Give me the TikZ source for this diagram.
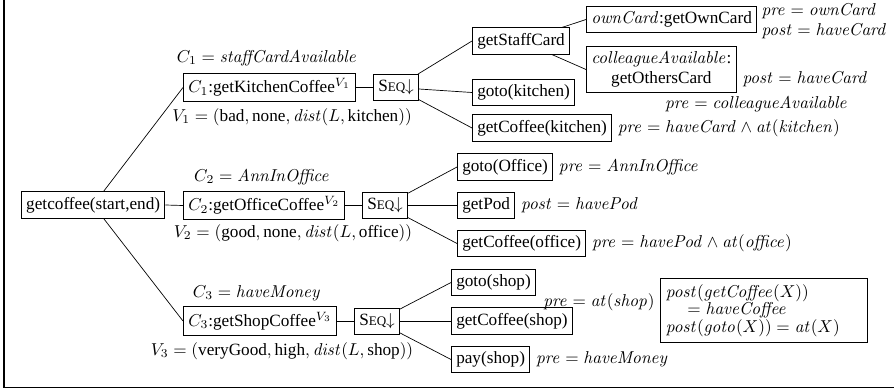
\documentclass[tikz,border=0pt]{standalone}
\usepackage[no-math]{fontspec}
\setmainfont{Liberation Serif}
\newcommand{\seqtxt}{S{\fontsize{7.6}{9}\selectfont EQ}$\downarrow$}
\newcommand{\mi}[1]{\mathit{#1}}
\begin{document}
\begin{tikzpicture}[x=0.5814pt,y=-0.5814pt,
  box/.style={draw, line width=0.5pt, inner xsep=2.8pt, inner ysep=3.1pt},
  wbox/.style={box, anchor=west},
  lbl/.style={inner sep=0pt},
  wlbl/.style={inner sep=0pt, anchor=west, xshift=3.2pt},
  conn/.style={line width=0.4pt}]
\useasboundingbox (0,0) rectangle (894,389);
\draw[line width=1.1pt] (4,0) -- (4,387.5) -- (894,387.5);

% root
\node[wbox] (root) at (21,205) {getcoffee(start,end)};

% level 1
\node[wbox] (c1) at (183,87.5) {$C_1$:getKitchenCoffee$^{V_1}$};
\node[wbox] (c2) at (183,205.5) {$C_2$:getOfficeCoffee$^{V_2}$};
\node[wbox] (c3) at (183,321) {$C_3$:getShopCoffee$^{V_3}$};
\node[lbl] (c1l) at (267,58) {$C_1 = \mi{staffCardAvailable}$};
\node[lbl] (c2l) at (262,177) {$C_2 = \mi{AnnInOffice}$};
\node[lbl] (c3l) at (257,293) {$C_3 = \mi{haveMoney}$};
\node[lbl] (v1l) at (292,117) {$V_1 = (\mbox{bad}, \mbox{none}, \mi{dist}(L, \mbox{kitchen}))$};
\node[lbl] (v2l) at (293,233) {$V_2 = (\mbox{good}, \mbox{none}, \mi{dist}(L, \mbox{office}))$};
\node[lbl] (v3l) at (282,351) {$V_3 = (\mbox{veryGood}, \mbox{high}, \mi{dist}(L, \mbox{shop}))$};

% seq
\node[wbox] (s1) at (373,87.5) {\seqtxt};
\node[wbox] (s2) at (362,205.5) {\seqtxt};
\node[wbox] (s3) at (354,321) {\seqtxt};

% kitchen branch
\node[wbox] (gsc) at (472,41) {getStaffCard};
\node[wbox] (gtk) at (472,92.5) {goto(kitchen)};
\node[wbox] (gck) at (472,128) {getCoffee(kitchen)};
\node[wbox] (own) at (586,19.5) {$\mi{ownCard}$:getOwnCard};
\node[wbox, align=center, inner ysep=2.6pt] (oth) at (586,69.5) {$\mi{colleagueAvailable}$:\\getOthersCard};
\node[wlbl, align=left, xshift=-0.8pt, yshift=-0.9pt] (ownl) at (own.east) {$\mi{pre} = \mi{ownCard}$\\$\mi{post} = \mi{haveCard}$};
\node[wlbl, yshift=-5.5pt] (othl1) at (oth.east) {$\mi{post} = \mi{haveCard}$};
\node[lbl] (othl2) at (756.5,104) {$\mi{pre} = \mi{colleagueAvailable}$};
\node[wlbl] (gckl) at (gck.east) {$\mi{pre} = \mi{haveCard} \wedge \mi{at}(\mi{kitchen})$};

% office branch
\node[wbox] (gto) at (457,167) {goto(Office)};
\node[wbox] (gp) at (457,205.5) {getPod};
\node[wbox] (gco) at (457,243.5) {getCoffee(office)};
\node[wlbl] (gtol) at (gto.east) {$\mi{pre} = \mi{AnnInOffice}$};
\node[wlbl] (gpl) at (gp.east) {$\mi{post} = \mi{havePod}$};
\node[wlbl] (gcol) at (gco.east) {$\mi{pre} = \mi{havePod} \wedge \mi{at}(\mi{office})$};

% shop branch
\node[wbox] (gts) at (451,282.5) {goto(shop)};
\node[wbox] (gcs) at (451,321) {getCoffee(shop)};
\node[wbox] (pay) at (451,359.5) {pay(shop)};
\node[lbl] (gcsl) at (599,302) {$\mi{pre} = \mi{at}(\mi{shop})$};
\node[wlbl] (payl) at (pay.east) {$\mi{pre} = \mi{haveMoney}$};

% legend box
\node[draw, line width=0.6pt, align=left, text width=114pt, inner sep=3pt,
      minimum height=37.5pt] (legend) at (764,310.5)
  {$\mi{post}(\mi{getCoffee}(X))$\\[-1.8pt]\hspace*{12.5pt}$= \mi{haveCoffee}$\\[-1.8pt]$\mi{post}(\mi{goto}(X)) = \mi{at}(X)$};

% connectors
\draw[conn] (root) -- (c1.west);
\draw[conn] (root.east) -- (c2.west);
\draw[conn] (root) -- (c3.west);
\draw[conn] (c1.east) -- (s1.west);
\draw[conn] (c2.east) -- (s2.west);
\draw[conn] (c3.east) -- (s3.west);
\draw[conn] (s1) -- (gsc.west);
\draw[conn] (s1) -- (gtk.west);
\draw[conn] (s1) -- (gck.west);
\draw[conn] (gsc) -- (own.west);
\draw[conn] (gsc) -- (oth.west);
\draw[conn] (s2) -- (gto.west);
\draw[conn] (s2.east) -- (gp.west);
\draw[conn] (s2) -- (gco.west);
\draw[conn] (s3) -- (gts.west);
\draw[conn] (s3.east) -- (gcs.west);
\draw[conn] (s3) -- (pay.west);
\end{tikzpicture}
\end{document}
